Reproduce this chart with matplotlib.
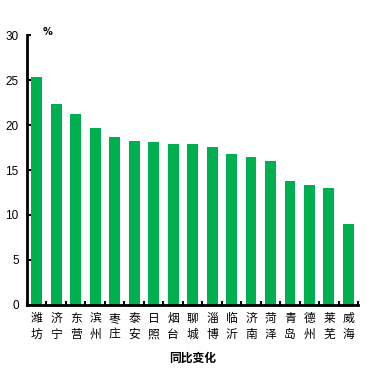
import matplotlib
matplotlib.use("Agg")
import matplotlib.pyplot as plt
import numpy as np

plt.rcParams['font.family'] = ['Noto Sans CJK SC', 'DejaVu Sans']

cities = ["潍坊", "济宁", "东营", "滨州", "枣庄", "泰安", "日照", "烟台", "聊城",
          "淄博", "临沂", "济南", "菏泽", "青岛", "德州", "莱芜", "威海"]
values = [25.3, 22.3, 21.2, 19.7, 18.7, 18.2, 18.1, 17.9, 17.9,
          17.6, 16.8, 16.4, 16.0, 13.8, 13.3, 13.0, 9.0]
yticks = [0, 5, 10, 15, 20, 25, 30]

fig = plt.figure(figsize=(3.7, 3.7), dpi=100)
ax = fig.add_axes([0.073, 0.176, 0.895, 0.729])

x = np.arange(len(cities))
ax.bar(x, values, width=0.56, color="#00B050", zorder=2)

ax.set_xlim(-0.5, len(cities) - 0.5)
ax.set_ylim(0, 30)
ax.set_yticks(yticks)
ax.set_yticklabels([str(v) for v in yticks], fontsize=8.5, family=['Liberation Sans', 'DejaVu Sans'])

ax.set_xticks(np.arange(-0.5, len(cities) + 0.5, 1))
ax.set_xticklabels([])
ax.set_xticks(x, minor=True)
ax.set_xticklabels(["\n".join(c) for c in cities], minor=True, fontsize=8.5, linespacing=1.3)
ax.tick_params(axis='x', which='minor', length=0, pad=5)
ax.tick_params(axis='x', which='major', direction='in', length=3, width=1.5)
ax.tick_params(axis='y', direction='in', length=3, width=1.5, pad=6)

for s in ['top', 'right']:
    ax.spines[s].set_visible(False)
for s in ['left', 'bottom']:
    ax.spines[s].set_linewidth(2)

ax.text(0.063, 1.012, "%", transform=ax.transAxes, fontsize=7, fontweight='bold',
        ha='center', va='center', family=['DejaVu Sans'])
ax.set_xlabel("同比变化", fontsize=8.5, fontweight='bold', labelpad=8)

fig.savefig("out.png", dpi=100)
